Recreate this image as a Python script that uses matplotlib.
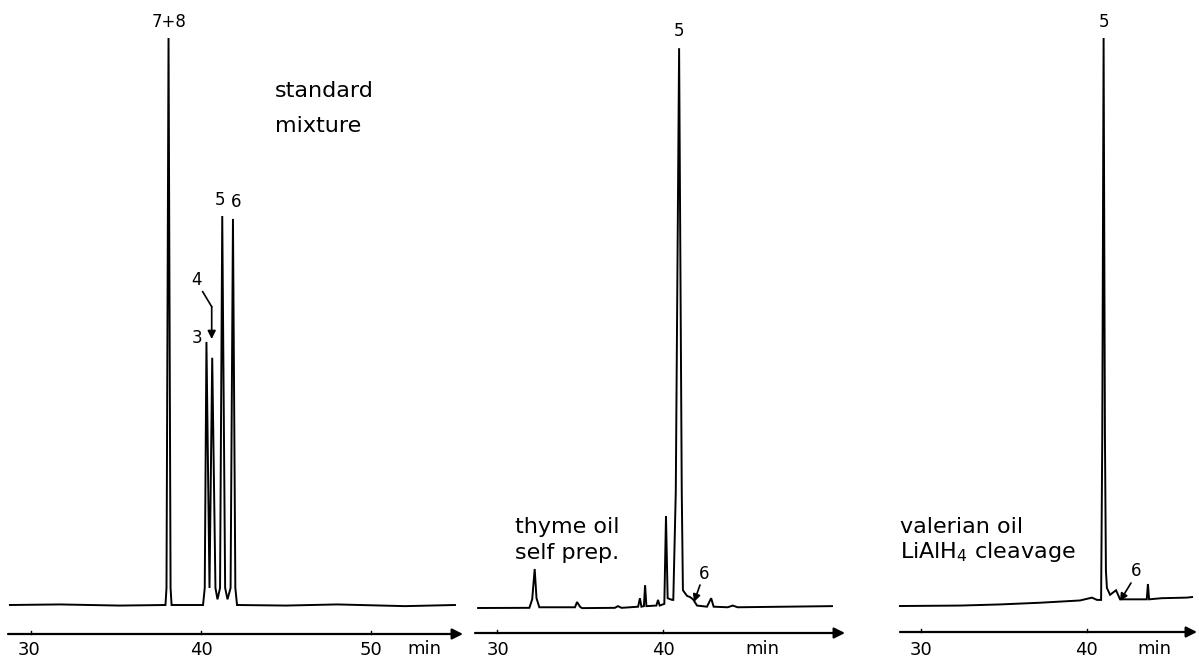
import matplotlib
matplotlib.use("Agg")
import matplotlib.pyplot as plt

# ---------------- data (retention time in min, detector signal in % of largest peak) ----------
std_time = [28.76, 31.7, 35.2, 37.91, 37.97, 38.09, 38.21, 38.27, 40.12, 40.22, 40.32, 40.5,
            40.66, 40.85, 40.97, 41.12, 41.25, 41.42, 41.56, 41.74, 41.88, 42.02, 42.12, 45.0,
            48.0, 52.0, 54.94]
std_signal = [0.0, 0.1, -0.1, 0.0, 3.0, 100.0, 3.0, 0.0, 0.0, 3.0, 46.4, 3.0,
              43.6, 3.0, 1.0, 3.0, 68.6, 3.0, 1.0, 3.0, 68.1, 3.0, 0.0, -0.1,
              0.1, -0.2, 0.0]

thyme_time = [28.86, 31.95, 32.12, 32.27, 32.38, 32.55, 34.7, 34.82, 35.0, 35.12, 37.1, 37.29,
              37.5, 38.01, 38.5, 38.61, 38.7, 38.85, 38.92, 39.0, 39.6, 39.7, 39.8, 40.08,
              40.18, 40.28, 40.55, 40.62, 40.77, 40.97, 41.13, 41.2, 41.45, 41.63, 41.81,
              42.05, 42.65, 42.9, 43.05, 43.9, 44.2, 44.5, 50.18]
thyme_signal = [-0.53, -0.5, 1.0, 6.35, 1.2, -0.4, -0.4, 0.53, -0.3, -0.55, -0.5, -0.2,
                -0.5, -0.4, -0.3, 1.2, -0.3, -0.2, 3.5, -0.2, -0.1, 0.9, -0.1, 0.2,
                15.7, 1.2, 0.9, 0.9, 20.0, 98.2, 20.0, 2.6, 1.6, 1.4, 1.0,
                -0.1, -0.3, 1.2, -0.3, -0.4, -0.1, -0.4, -0.2]

val_time = [28.73, 32.35, 34.76, 37.17, 39.58, 40.3, 40.6, 40.85, 40.92, 41.0, 41.08, 41.14,
            41.2, 41.39, 41.75, 41.99, 42.89, 43.6, 43.67, 43.74, 44.5, 46.0, 46.33]
val_signal = [-0.18, -0.1, 0.1, 0.4, 0.8, 1.3, 0.9, 0.9, 30.0, 100.0, 30.0, 6.0,
              3.0, 1.8, 2.6, 1.0, 1.0, 1.0, 3.7, 1.0, 1.2, 1.3, 1.4]

axis_ticks = [30, 40, 50]
axis_ticks2 = [30, 40]
axis_ticks3 = [30, 40]

# ---------------- figure -------------------------------------------------------------------------
W, H = 1199, 661
fig = plt.figure(figsize=(W / 100, H / 100), dpi=100)
plt.rcParams['font.family'] = ['DejaVu Sans']

BASE_PX = 605.0      # pixel row of zero signal
PX_PER_UNIT = 5.67   # pixels per signal unit
YMIN = (BASE_PX - H) / PX_PER_UNIT
YMAX = BASE_PX / PX_PER_UNIT


def make_panel(left_px, right_px, t30_px, ppm):
    ax = fig.add_axes([left_px / W, 0, (right_px - left_px) / W, 1])
    ax.set_xlim(30 + (left_px - t30_px) / ppm, 30 + (right_px - t30_px) / ppm)
    ax.set_ylim(YMIN, YMAX)
    ax.axis('off')
    tx = lambda x: 30 + (x - t30_px) / ppm
    return ax, tx


def vy(y_px):
    return (BASE_PX - y_px) / PX_PER_UNIT


def time_axis(ax, tx, x0, x1, y_px, ticks, tick_x, min_x):
    y = vy(y_px)
    ax.annotate('', xy=(tx(x1), y), xytext=(tx(x0), y),
                arrowprops=dict(arrowstyle='-|>', lw=1.6, color='black',
                                mutation_scale=16, shrinkA=0, shrinkB=0))
    for t, lx in zip(ticks, tick_x):
        ax.plot([t, t], [y, y + 0.5], color='black', lw=1.0)
        ax.text(tx(lx), vy(650), str(t), ha='center', va='center', fontsize=13)
    ax.text(tx(min_x), vy(649), 'min', ha='center', va='center', fontsize=13)


LW = 1.4
lbl = 12
big = 16

# panel 1 : standard mixture
ax1, t1 = make_panel(0, 468, 31, 17.0)
ax1.plot(std_time, std_signal, color='black', lw=LW, solid_joinstyle='miter')
time_axis(ax1, t1, 8, 463, 634, axis_ticks, [29, 201, 371], 424)
ax1.text(38.12, vy(22), '7+8', ha='center', va='center', fontsize=lbl)
ax1.text(t1(220), vy(200), '5', ha='center', va='center', fontsize=lbl)
ax1.text(t1(236.5), vy(202), '6', ha='center', va='center', fontsize=lbl)
ax1.text(t1(197), vy(280), '4', ha='center', va='center', fontsize=lbl)
ax1.text(t1(197), vy(338), '3', ha='center', va='center', fontsize=lbl)
ax1.plot([t1(202.7), t1(211.7)], [vy(291.7), vy(306.7)], color='black', lw=1.2)
ax1.annotate('', xy=(t1(211.7), vy(339)), xytext=(t1(211.7), vy(306.7)),
             arrowprops=dict(arrowstyle='-|>', lw=1.2, color='black', mutation_scale=12,
                             shrinkA=0, shrinkB=0))
ax1.text(t1(275), vy(97), 'standard', ha='left', va='baseline', fontsize=big)
ax1.text(t1(275), vy(132), 'mixture', ha='left', va='baseline', fontsize=big)

# panel 2 : thyme oil
ax2, t2 = make_panel(468, 870, 497, 16.6)
ax2.plot(thyme_time, thyme_signal, color='black', lw=LW, solid_joinstyle='miter')
time_axis(ax2, t2, 475, 845, 633, axis_ticks2, [498, 663], 762)
ax2.text(40.97, vy(31), '5', ha='center', va='center', fontsize=lbl)
ax2.text(t2(704), vy(574), '6', ha='center', va='center', fontsize=lbl)
ax2.annotate('', xy=(t2(694), vy(602)), xytext=(t2(700), vy(585)),
             arrowprops=dict(arrowstyle='-|>', lw=1.2, color='black', mutation_scale=11,
                             shrinkA=0, shrinkB=0))
ax2.text(t2(515), vy(533), 'thyme oil', ha='left', va='baseline', fontsize=big)
ax2.text(t2(515), vy(559), 'self prep.', ha='left', va='baseline', fontsize=big)

# panel 3 : valerian oil
ax3, t3 = make_panel(870, 1199, 921, 16.6)
ax3.plot(val_time, val_signal, color='black', lw=LW, solid_joinstyle='miter')
time_axis(ax3, t3, 900, 1197, 632, axis_ticks3, [921, 1086], 1154)
ax3.text(41.0, vy(22), '5', ha='center', va='center', fontsize=lbl)
ax3.text(t3(1136), vy(571), '6', ha='center', va='center', fontsize=lbl)
ax3.annotate('', xy=(t3(1120), vy(601)), xytext=(t3(1131), vy(583)),
             arrowprops=dict(arrowstyle='-|>', lw=1.2, color='black', mutation_scale=11,
                             shrinkA=0, shrinkB=0))
ax3.text(t3(900), vy(533), 'valerian oil', ha='left', va='baseline', fontsize=big)
ax3.text(t3(900), vy(558), r'LiAlH$_4$ cleavage', ha='left', va='baseline', fontsize=big)

fig.savefig('out.png', dpi=100, facecolor='white')
